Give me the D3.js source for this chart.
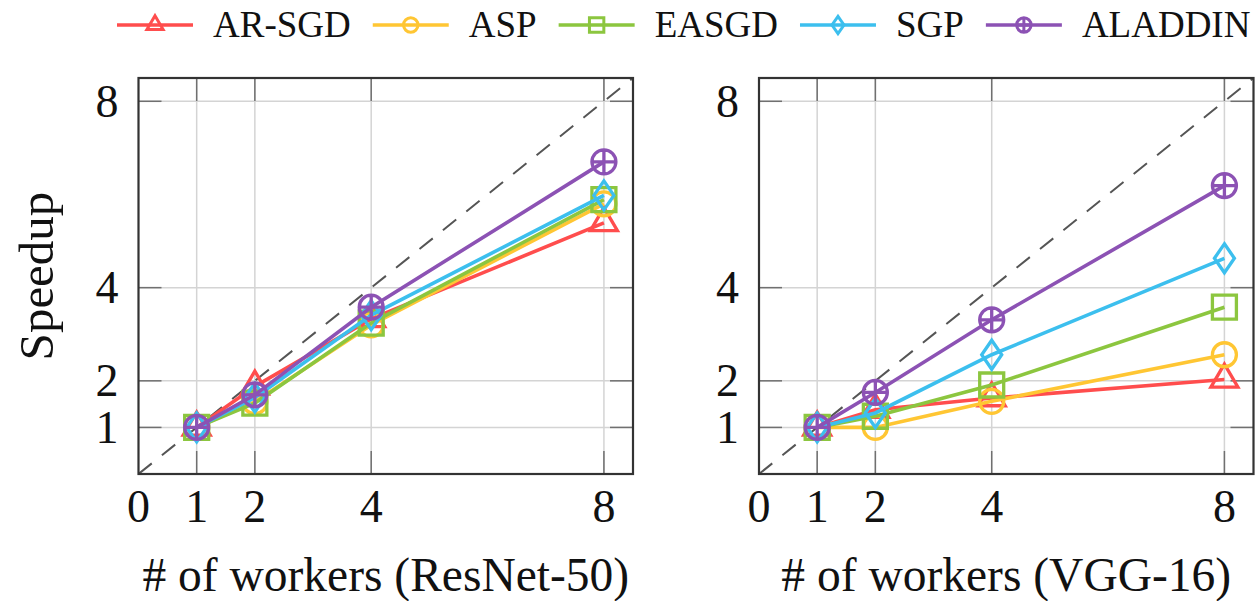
<!DOCTYPE html>
<meta charset="utf-8">

<head>
  <script src="https://d3js.org/d3.v7.min.js"></script>
  <style>
    body { margin: 0; background: #fff; }
  </style>
</head>

<body>
  <svg id="root"></svg>

  <script>
    // Data
    const methods = ["AR-SGD", "ASP", "EASGD", "SGP", "ALADDIN"];
    const colors = ["#ff4d4d", "#ffc633", "#8cc63f", "#3cbfee", "#8c52b4"];
    const markers = ["triangle", "circle", "square", "diamond", "oplus"];
    const workers = [1, 2, 4, 8];

    // speedup per method, same order as methods
    const resnetSpeedup = [
      [1, 1.88, 3.33, 5.39],
      [1, 1.55, 3.20, 5.80],
      [1, 1.52, 3.24, 5.89],
      [1, 1.64, 3.41, 5.98],
      [1, 1.70, 3.58, 6.70]
    ];
    const vggSpeedup = [
      [1, 1.38, 1.63, 2.03],
      [1, 1.00, 1.56, 2.56],
      [1, 1.24, 1.91, 3.58],
      [1, 1.31, 2.56, 4.63],
      [1, 1.75, 3.31, 6.19]
    ];

    const xTicks = [0, 1, 2, 4, 8];
    const yTicks = [1, 2, 4, 8];
    const gridTicks = [1, 2, 4, 8];
    const domainMax = 8.5;

    const fontStack = "'Liberation Serif', 'DejaVu Serif', 'Times New Roman', Tinos, serif";

    const W = 1256, H = 601;
    const svg = d3.select("#root").attr("width", W).attr("height", H)
      .attr("font-family", fontStack);

    const plotTop = 78, plotBottom = 474;
    const panels = [
      { left: 138.5, right: 633, data: resnetSpeedup, label: "# of workers (ResNet-50)", ylabel: true },
      { left: 759, right: 1253.5, data: vggSpeedup, label: "# of workers (VGG-16)", ylabel: false }
    ];

    function markerPath(type, s) {
      // s = scale factor, 1 for the plot, ~0.6 for the legend
      const p = d3.path();
      if (type === "triangle") {
        const h = 23 * s, w = 27 * s;
        p.moveTo(0, -h * 2 / 3); p.lineTo(w / 2, h / 3); p.lineTo(-w / 2, h / 3); p.closePath();
      } else if (type === "circle") {
        const r = 12 * s;
        p.moveTo(r, 0); p.arc(0, 0, r, 0, 2 * Math.PI);
      } else if (type === "square") {
        const a = 12 * s;
        p.rect(-a, -a, 2 * a, 2 * a);
      } else if (type === "diamond") {
        const w = 10 * s, h = 14.5 * s;
        p.moveTo(0, -h); p.lineTo(w, 0); p.lineTo(0, h); p.lineTo(-w, 0); p.closePath();
      } else if (type === "oplus") {
        const r = 12 * s;
        p.moveTo(r, 0); p.arc(0, 0, r, 0, 2 * Math.PI);
        p.moveTo(-r, 0); p.lineTo(r, 0);
        p.moveTo(0, -r); p.lineTo(0, r);
      }
      return p.toString();
    }

    function addText(sel, size) {
      return sel.append("text")
        .attr("font-family", fontStack)
        .attr("font-size", size)
        .attr("fill", "#111");
    }

    panels.forEach((pn, pi) => {
      const x = d3.scaleLinear([0, domainMax], [pn.left, pn.right]);
      const y = d3.scaleLinear([0, domainMax], [plotBottom, plotTop]);
      const g = svg.append("g");

      const clipId = "clip" + pi;
      g.append("clipPath").attr("id", clipId)
        .append("rect")
        .attr("x", pn.left).attr("y", plotTop)
        .attr("width", pn.right - pn.left).attr("height", plotBottom - plotTop);

      // grid
      g.selectAll(".vgrid").data(gridTicks).join("line")
        .attr("class", "vgrid")
        .attr("x1", d => x(d)).attr("x2", d => x(d))
        .attr("y1", plotTop).attr("y2", plotBottom)
        .attr("stroke", "#d4d4d4").attr("stroke-width", 1.5);
      g.selectAll(".hgrid").data(gridTicks).join("line")
        .attr("class", "hgrid")
        .attr("x1", pn.left).attr("x2", pn.right)
        .attr("y1", d => y(d)).attr("y2", d => y(d))
        .attr("stroke", "#d4d4d4").attr("stroke-width", 1.5);

      // inner ticks on all four sides
      const tl = 23;
      const tickG = g.append("g").attr("stroke", "#707070").attr("stroke-width", 1.5);
      gridTicks.forEach(t => {
        tickG.append("line").attr("x1", x(t)).attr("x2", x(t)).attr("y1", plotBottom).attr("y2", plotBottom - tl);
        tickG.append("line").attr("x1", x(t)).attr("x2", x(t)).attr("y1", plotTop).attr("y2", plotTop + tl);
        tickG.append("line").attr("x1", pn.left).attr("x2", pn.left + tl).attr("y1", y(t)).attr("y2", y(t));
        tickG.append("line").attr("x1", pn.right).attr("x2", pn.right - tl).attr("y1", y(t)).attr("y2", y(t));
      });

      // ideal speedup diagonal
      g.append("line")
        .attr("clip-path", `url(#${clipId})`)
        .attr("x1", x(0)).attr("y1", y(0))
        .attr("x2", x(domainMax)).attr("y2", y(domainMax))
        .attr("stroke", "#555").attr("stroke-width", 2)
        .attr("stroke-dasharray", "17,13");

      // series
      const line = d3.line().x((d, i) => x(workers[i])).y(d => y(d));
      pn.data.forEach((vals, si) => {
        const sg = g.append("g").attr("stroke", colors[si]).attr("fill", "none");
        sg.append("path").datum(vals).attr("d", line).attr("stroke-width", 3.6);
        sg.selectAll(".mk").data(vals).join("path")
          .attr("class", "mk")
          .attr("transform", (d, i) => `translate(${x(workers[i])},${y(d)})`)
          .attr("d", markerPath(markers[si], 1))
          .attr("stroke-width", 3.3);
      });

      // frame
      g.append("rect")
        .attr("x", pn.left).attr("y", plotTop)
        .attr("width", pn.right - pn.left).attr("height", plotBottom - plotTop)
        .attr("fill", "none").attr("stroke", "#333").attr("stroke-width", 2.2);

      // tick labels
      xTicks.forEach(d => {
        addText(g, 46)
          .attr("x", x(d)).attr("y", 522)
          .attr("text-anchor", "middle")
          .text(d);
      });
      yTicks.forEach(d => {
        addText(g, 46)
          .attr("x", pn.left - 20).attr("y", y(d))
          .attr("dy", "0.34em")
          .attr("text-anchor", "end")
          .text(d);
      });

      // axis labels
      addText(g, 47.5)
        .attr("x", (pn.left + pn.right) / 2).attr("y", 591)
        .attr("text-anchor", "middle")
        .text(pn.label);

      if (pn.ylabel) {
        addText(g, 49)
          .attr("transform", `translate(53,${(plotTop + plotBottom) / 2}) rotate(-90)`)
          .attr("text-anchor", "middle")
          .text("Speedup");
      }
    });

    // legend
    const legend = svg.append("g");
    let lx = 117;
    const ly = 25;
    methods.forEach((m, i) => {
      const item = legend.append("g");
      item.append("line")
        .attr("x1", lx).attr("x2", lx + 76).attr("y1", ly).attr("y2", ly)
        .attr("stroke", colors[i]).attr("stroke-width", 3.6);
      item.append("path")
        .attr("transform", `translate(${lx + 38},${ly})`)
        .attr("d", markerPath(markers[i], 0.6))
        .attr("fill", "none").attr("stroke", colors[i]).attr("stroke-width", 3);
      const t = addText(item, 37)
        .attr("x", lx + 96).attr("y", ly + 12)
        .text(m);
      lx += 96 + t.node().getComputedTextLength() + 22;
    });
  </script>
</body>
